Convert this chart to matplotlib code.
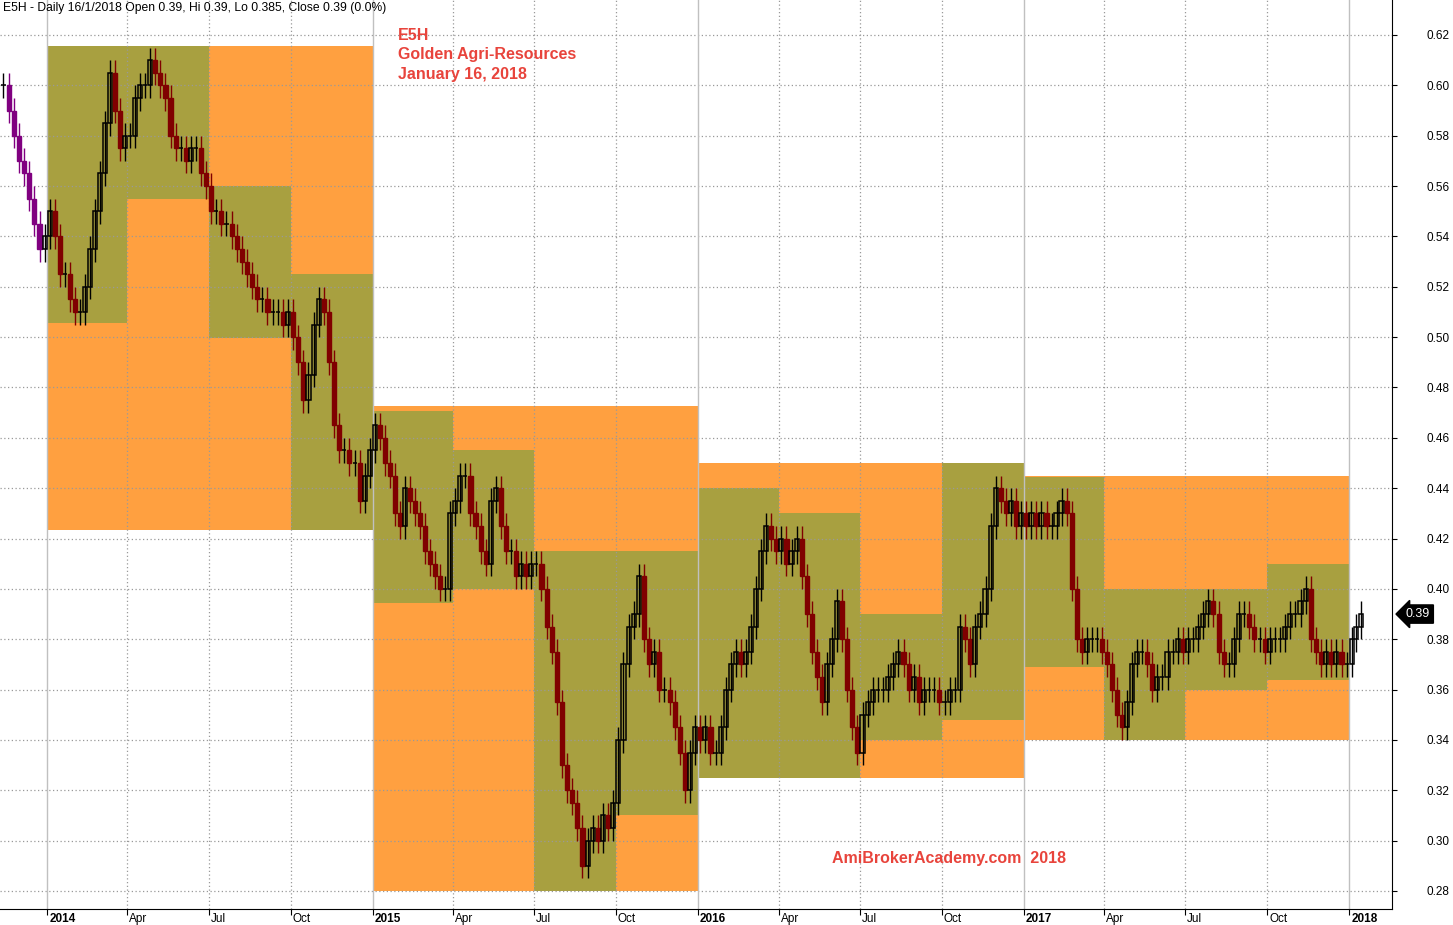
import matplotlib
matplotlib.use("Agg")
import matplotlib.pyplot as plt
import matplotlib.dates as mdates
import matplotlib.transforms as mtransforms
from matplotlib.patches import Rectangle
import pandas as pd

plt.rcParams['font.family'] = ['Liberation Sans', 'DejaVu Sans']

# closes (roughly every 4 trading days)
c_2013q4 = [0.60, 0.59, 0.58, 0.57, 0.565, 0.555, 0.545, 0.535, 0.54]
c_2014q1 = [0.55, 0.54, 0.525, 0.525, 0.515, 0.51, 0.51, 0.52, 0.535, 0.55, 0.565, 0.585, 0.605, 0.59, 0.575, 0.58]
c_2014q2 = [0.58, 0.595, 0.60, 0.60, 0.61, 0.605, 0.60, 0.595, 0.58, 0.575, 0.575, 0.57, 0.575, 0.575, 0.565, 0.56]
c_2014q3 = [0.55, 0.55, 0.545, 0.545, 0.54, 0.535, 0.53, 0.525, 0.52, 0.515, 0.515, 0.51, 0.51, 0.51, 0.505, 0.51]
c_2014q4 = [0.50, 0.49, 0.475, 0.485, 0.505, 0.515, 0.51, 0.49, 0.465, 0.455, 0.455, 0.45, 0.45, 0.435, 0.445, 0.455]
c_2015q1 = [0.465, 0.46, 0.45, 0.445, 0.43, 0.425, 0.44, 0.435, 0.43, 0.425, 0.415, 0.41, 0.405, 0.40, 0.40, 0.43]
c_2015q2 = [0.435, 0.445, 0.445, 0.43, 0.425, 0.415, 0.41, 0.435, 0.44, 0.425, 0.415, 0.415, 0.405, 0.41, 0.405, 0.41]
c_2015q3 = [0.41, 0.40, 0.385, 0.375, 0.355, 0.33, 0.32, 0.315, 0.305, 0.29, 0.30, 0.305, 0.30, 0.31, 0.305, 0.315]
c_2015q4 = [0.34, 0.37, 0.385, 0.39, 0.405, 0.38, 0.37, 0.375, 0.36, 0.36, 0.355, 0.345, 0.335, 0.32, 0.335, 0.345]
c_2016q1 = [0.34, 0.345, 0.335, 0.335, 0.345, 0.36, 0.37, 0.375, 0.37, 0.375, 0.385, 0.40, 0.415, 0.425, 0.42, 0.415]
c_2016q2 = [0.42, 0.41, 0.415, 0.42, 0.405, 0.39, 0.375, 0.365, 0.355, 0.37, 0.38, 0.395, 0.38, 0.36, 0.345, 0.335]
c_2016q3 = [0.35, 0.355, 0.36, 0.36, 0.36, 0.365, 0.37, 0.375, 0.37, 0.36, 0.365, 0.355, 0.36, 0.36, 0.36, 0.355]
c_2016q4 = [0.355, 0.36, 0.36, 0.385, 0.38, 0.37, 0.385, 0.39, 0.40, 0.425, 0.44, 0.435, 0.43, 0.435, 0.425, 0.43]
c_2017q1 = [0.425, 0.43, 0.425, 0.43, 0.425, 0.425, 0.43, 0.435, 0.43, 0.40, 0.38, 0.375, 0.38, 0.38, 0.38, 0.375]
c_2017q2 = [0.37, 0.36, 0.35, 0.345, 0.355, 0.37, 0.375, 0.375, 0.37, 0.36, 0.365, 0.365, 0.375, 0.375, 0.38, 0.375]
c_2017q3 = [0.38, 0.38, 0.385, 0.39, 0.395, 0.39, 0.375, 0.37, 0.37, 0.38, 0.39, 0.39, 0.385, 0.38, 0.38, 0.375]
c_2017q4 = [0.38, 0.38, 0.38, 0.385, 0.39, 0.39, 0.395, 0.40, 0.38, 0.375, 0.37, 0.375, 0.37, 0.375, 0.37, 0.37]
c_2018q1 = [0.38, 0.385, 0.39]

seg_closes = [c_2013q4, c_2014q1, c_2014q2, c_2014q3, c_2014q4, c_2015q1, c_2015q2, c_2015q3,
              c_2015q4, c_2016q1, c_2016q2, c_2016q3, c_2016q4, c_2017q1, c_2017q2, c_2017q3,
              c_2017q4, c_2018q1]
seg_bounds = ["2013-11-10", "2014-01-01", "2014-04-01", "2014-07-01", "2014-10-01", "2015-01-01",
              "2015-04-01", "2015-07-01", "2015-10-01", "2016-01-01", "2016-04-01", "2016-07-01",
              "2016-10-01", "2017-01-01", "2017-04-01", "2017-07-01", "2017-10-01", "2018-01-01",
              "2018-01-17"]

# yearly high / low ranges
years = [2014, 2015, 2016, 2017]
year_hi = [0.6155, 0.4725, 0.45, 0.445]
year_lo = [0.4235, 0.28, 0.325, 0.34]

# quarterly high / low ranges
q_hi = [0.6155, 0.6155, 0.56, 0.525,
        0.4705, 0.455, 0.415, 0.415,
        0.44, 0.43, 0.39, 0.45,
        0.4445, 0.40, 0.40, 0.41]
q_lo = [0.5055, 0.555, 0.4995, 0.4235,
        0.3945, 0.40, 0.28, 0.31,
        0.325, 0.325, 0.34, 0.348,
        0.369, 0.34, 0.36, 0.364]

ORANGE = "#ffa040"
OLIVE = "#a8a040"
DOWN = "#800000"
PURPLE = "#800080"
RED_TXT = "#e8443c"

fig = plt.figure(figsize=(14.53, 9.25), dpi=100)
ax = fig.add_axes([0, 16 / 925, 1392 / 1453, 909 / 925])
ax.set_facecolor("white")

x_left = mdates.date2num(pd.Timestamp("2013-11-09"))
x_right = mdates.date2num(pd.Timestamp("2018-02-18"))
ax.set_xlim(x_left, x_right)
ax.set_ylim(0.27285, 0.6339)

# boxes
for i, yr in enumerate(years):
    x0 = mdates.date2num(pd.Timestamp(f"{yr}-01-01"))
    x1 = mdates.date2num(pd.Timestamp(f"{yr + 1}-01-01"))
    ax.add_patch(Rectangle((x0, year_lo[i]), x1 - x0, year_hi[i] - year_lo[i],
                           facecolor=ORANGE, edgecolor="none", zorder=0.5))
q_starts = pd.date_range("2014-01-01", periods=17, freq="QS")
for i in range(16):
    x0 = mdates.date2num(q_starts[i])
    x1 = mdates.date2num(q_starts[i + 1])
    ax.add_patch(Rectangle((x0, q_lo[i]), x1 - x0, q_hi[i] - q_lo[i],
                           facecolor=OLIVE, edgecolor="none", zorder=0.6))

# grid
for yv in [0.28 + 0.02 * k for k in range(18)]:
    ax.axhline(yv, color="#999999", lw=0.9, ls=(0, (1, 2)), zorder=1)
for d in q_starts:
    if d.month == 1:
        ax.axvline(mdates.date2num(d), color="#c0c0c0", lw=1.0, zorder=1)
    else:
        ax.axvline(mdates.date2num(d), color="#999999", lw=0.9, ls=(0, (1, 2)), zorder=1)

# candles
xs, closes = [], []
for k, cl in enumerate(seg_closes):
    s = mdates.date2num(pd.Timestamp(seg_bounds[k]))
    e = mdates.date2num(pd.Timestamp(seg_bounds[k + 1]))
    n = len(cl)
    for i, c in enumerate(cl):
        xs.append(s + (i + 0.5) * (e - s) / n)
        closes.append(c)

first_box = mdates.date2num(pd.Timestamp("2014-01-01"))
last_box = mdates.date2num(pd.Timestamp("2018-01-01"))
bw = 4.6
prev = closes[0]
for x, c in zip(xs, closes):
    o = prev
    hi = max(o, c) + 0.005
    lo = min(o, c) - 0.005
    outside = x < first_box or x > last_box
    dcol = PURPLE if outside else DOWN
    if c > o:
        ax.vlines(x, lo, hi, color="black", lw=1.0, zorder=2)
        ax.add_patch(Rectangle((x - bw / 2, o), bw, c - o, facecolor="none",
                               edgecolor="black", lw=1.1, zorder=2.1))
    elif c < o:
        ax.vlines(x, lo, hi, color=dcol, lw=1.0, zorder=2)
        ax.add_patch(Rectangle((x - bw / 2, c), bw, o - c, facecolor=dcol,
                               edgecolor=dcol, lw=1.0, zorder=2.1))
    else:
        ax.vlines(x, lo, hi, color="black", lw=1.0, zorder=2)
        ax.hlines(c, x - bw / 2, x + bw / 2, color="black", lw=1.1, zorder=2.1)
    prev = c

# axes styling
for sp in ["top", "left"]:
    ax.spines[sp].set_visible(False)
ax.spines["bottom"].set_color("black")
ax.spines["right"].set_color("black")
ax.yaxis.tick_right()
ax.set_yticks([0.28 + 0.02 * k for k in range(18)])
ax.set_yticklabels([f"{0.28 + 0.02 * k:.2f}" for k in range(18)])
ax.tick_params(axis="y", direction="out", length=3.6, width=0.8, pad=21, labelsize=8.5,
               colors="black")

year_ticks = [mdates.date2num(d) for d in q_starts if d.month == 1]
month_ticks = [mdates.date2num(d) for d in q_starts if d.month != 1]
ax.set_xticks(year_ticks)
ax.set_xticklabels([str(d.year) for d in q_starts if d.month == 1], fontweight="bold")
ax.set_xticks(month_ticks, minor=True)
ax.set_xticklabels([d.strftime("%b") for d in q_starts if d.month != 1], minor=True)
ax.tick_params(axis="x", which="both", direction="out", length=4, width=0.8, pad=-1,
               labelsize=8.5, colors="black")
offset = mtransforms.ScaledTranslation(2 / 100, 0, fig.dpi_scale_trans)
for lab in ax.get_xticklabels() + ax.get_xticklabels(minor=True):
    lab.set_horizontalalignment("left")
    lab.set_transform(lab.get_transform() + offset)

# texts
fig.text(3 / 1453, 1 - 8 / 925, "E5H - Daily 16/1/2018 Open 0.39, Hi 0.39, Lo 0.385, Close 0.39 (0.0%)",
         fontsize=8.7, va="center", ha="left", color="black")
for i, line in enumerate(["E5H", "Golden Agri-Resources", "January 16, 2018"]):
    fig.text(398 / 1453, 1 - (35 + 19.5 * i) / 925, line, fontsize=11.5, fontweight="bold",
             color=RED_TXT, va="center", ha="left")
fig.text(832 / 1453, 1 - 858 / 925, "AmiBrokerAcademy.com  2018", fontsize=11.5, fontweight="bold",
         color=RED_TXT, va="center", ha="left")

# last price marker
trans = mtransforms.blended_transform_factory(ax.transAxes, ax.transData)
ax.text(1.0 + 14 / 1392, closes[-1], f"{closes[-1]:.2f}", transform=trans, fontsize=9,
        color="white", va="center", ha="left", clip_on=False,
        bbox=dict(boxstyle="larrow,pad=0.25", facecolor="black", edgecolor="black"))

fig.savefig("out.png", dpi=100, facecolor="white")
